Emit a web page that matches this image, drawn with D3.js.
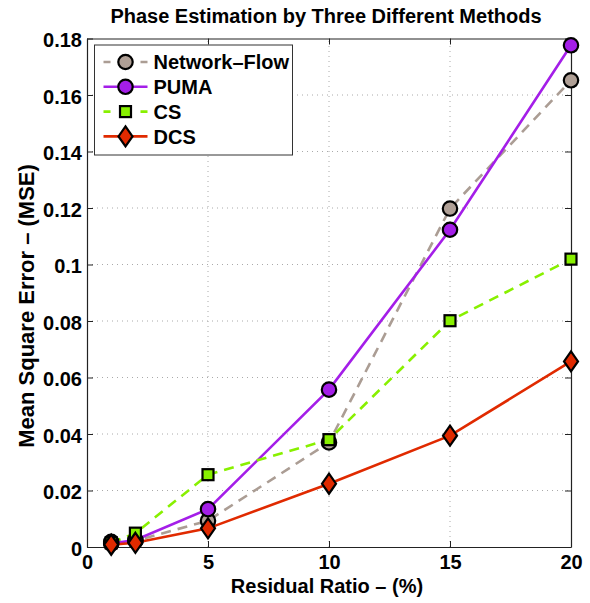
<!DOCTYPE html>
<html>
<head>
<meta charset="utf-8">
<script src="https://cdn.jsdelivr.net/npm/d3@7"></script>
<style>
  body { margin: 0; background: #fff; }
  text { font-family: "Liberation Sans", Arial, sans-serif; font-weight: bold; fill: #000; }
</style>
</head>
<body>
<div id="chart"></div>
<script>
// chart data
let ratios = [1, 2, 5, 10, 15, 20];
let networkFlow = [0.0018, 0.0022, 0.0093, 0.0370, 0.1198, 0.1652];
let puma = [0.0012, 0.0025, 0.0134, 0.0557, 0.1123, 0.1776];
let cs = [0.0015, 0.0049, 0.0256, 0.0380, 0.0801, 0.1019];
let dcs = [0.0008, 0.0015, 0.0066, 0.0224, 0.0394, 0.0657];
let xTicks = [0, 5, 10, 15, 20];
let yTicks = [0, 0.02, 0.04, 0.06, 0.08, 0.1, 0.12, 0.14, 0.16, 0.18];
let seriesNames = ["Network\u2013Flow", "PUMA", "CS", "DCS"];

((() => {
  let width = 590;
  let height = 603;
  let margin = { left: 87, right: 19, top: 38.5, bottom: 56 };

  let svg = d3.select("#chart").append("svg")
    .attr("width", width)
    .attr("height", height);

  let x = d3.scaleLinear().domain([0, 20]).range([margin.left, width - margin.right]);
  let y = d3.scaleLinear().domain([0, 0.18]).range([height - margin.bottom, margin.top]);

  // style per series
  let series = [
    { name: seriesNames[0], values: networkFlow, stroke: "#ab9d94", fill: "#b0a096", dash: "10,7", marker: "circle" },
    { name: seriesNames[1], values: puma, stroke: "#a41ee8", fill: "#a41ee8", dash: null, marker: "circle" },
    { name: seriesNames[2], values: cs, stroke: "#88f000", fill: "#88f000", dash: "10,7", marker: "square" },
    { name: seriesNames[3], values: dcs, stroke: "#e02a00", fill: "#e02a00", dash: null, marker: "diamond" }
  ];

  // grid
  let grid = svg.append("g").attr("class", "grid");
  grid.selectAll("line.gx").data(xTicks.slice(1, -1)).enter().append("line")
    .attr("x1", d => x(d)).attr("x2", d => x(d))
    .attr("y1", y(0)).attr("y2", y(0.18))
    .attr("stroke", "#aaa").attr("stroke-width", 1).attr("stroke-dasharray", "1,4");
  grid.selectAll("line.gy").data(yTicks.slice(1, -1)).enter().append("line")
    .attr("y1", d => y(d)).attr("y2", d => y(d))
    .attr("x1", x(0)).attr("x2", x(20))
    .attr("stroke", "#aaa").attr("stroke-width", 1).attr("stroke-dasharray", "1,4");

  // axes, ticks pointing inward
  let fmtY = d => d === 0 ? "0" : String(+d.toFixed(2));
  let axisBottom = svg.append("g").attr("transform", `translate(0,${y(0)})`)
    .call(d3.axisBottom(x).tickValues(xTicks).tickSizeInner(-6).tickSizeOuter(0).tickPadding(8));
  let axisLeft = svg.append("g").attr("transform", `translate(${x(0)},0)`)
    .call(d3.axisLeft(y).tickValues(yTicks).tickFormat(fmtY).tickSizeInner(-6).tickSizeOuter(0).tickPadding(5));
  let axisTop = svg.append("g").attr("transform", `translate(0,${y(0.18)})`)
    .call(d3.axisTop(x).tickValues(xTicks).tickSizeInner(-6).tickSizeOuter(0).tickFormat(""));
  let axisRight = svg.append("g").attr("transform", `translate(${x(20)},0)`)
    .call(d3.axisRight(y).tickValues(yTicks).tickSizeInner(-6).tickSizeOuter(0).tickFormat(""));

  [axisBottom, axisLeft, axisTop, axisRight].forEach(a => {
    a.select(".domain").attr("stroke", "#222").attr("stroke-width", 1.2);
    a.selectAll(".tick line").attr("stroke", "#222");
    a.selectAll("text").style("font-size", "20px").style("font-family", "Liberation Sans, Arial, sans-serif").style("font-weight", "bold");
  });
  axisLeft.selectAll("text").attr("dy", "0.4em");

  // lines
  let line = d3.line().x((d, i) => x(ratios[i])).y(d => y(d));
  series.forEach(s => {
    svg.append("path")
      .datum(s.values)
      .attr("d", line)
      .attr("fill", "none")
      .attr("stroke", s.stroke)
      .attr("stroke-width", 2.6)
      .attr("stroke-dasharray", s.dash);
  });

  function drawMarker(g, type, cx, cy, fill) {
    if (type === "circle") {
      g.append("circle").attr("cx", cx).attr("cy", cy).attr("r", 7.2)
        .attr("fill", fill).attr("stroke", "#000").attr("stroke-width", 2.2);
    } else if (type === "square") {
      g.append("rect").attr("x", cx - 5.5).attr("y", cy - 5.5).attr("width", 11).attr("height", 11)
        .attr("fill", fill).attr("stroke", "#000").attr("stroke-width", 2.2);
    } else {
      g.append("path").attr("d", `M${cx},${cy - 10}L${cx + 7},${cy}L${cx},${cy + 10}L${cx - 7},${cy}Z`)
        .attr("fill", fill).attr("stroke", "#000").attr("stroke-width", 2.2);
    }
  }

  // markers
  series.forEach(s => {
    let g = svg.append("g");
    s.values.forEach((v, i) => drawMarker(g, s.marker, x(ratios[i]), y(v), s.fill));
  });

  // legend
  let legend = svg.append("g").attr("transform", "translate(94.5,45)");
  legend.append("rect").attr("width", 198).attr("height", 110)
    .attr("fill", "#fff").attr("stroke", "#333").attr("stroke-width", 1);
  series.forEach((s, i) => {
    let ly = 17 + i * 24.8;
    legend.append("line").attr("x1", 9).attr("x2", 53).attr("y1", ly).attr("y2", ly)
      .attr("stroke", s.stroke).attr("stroke-width", 2.6)
      .attr("stroke-dasharray", s.dash ? "7,10,10,10" : null);
    drawMarker(legend, s.marker, 31, ly, s.fill);
    legend.append("text").attr("x", 59).attr("y", ly).attr("dy", "0.36em")
      .style("font-size", "20px").text(s.name);
  });

  // titles
  svg.append("text").attr("x", 326).attr("y", 22.7).attr("text-anchor", "middle")
    .style("font-size", "20px").text("Phase Estimation by Three Different Methods");
  svg.append("text").attr("x", 327).attr("y", 592.5).attr("text-anchor", "middle")
    .style("font-size", "20px").text("Residual Ratio \u2013 (%)");
  svg.append("text").attr("transform", "translate(33.5,306) rotate(-90)").attr("text-anchor", "middle")
    .style("font-size", "22px").text("Mean Square Error \u2013 (MSE)");
})());
</script>
</body>
</html>
